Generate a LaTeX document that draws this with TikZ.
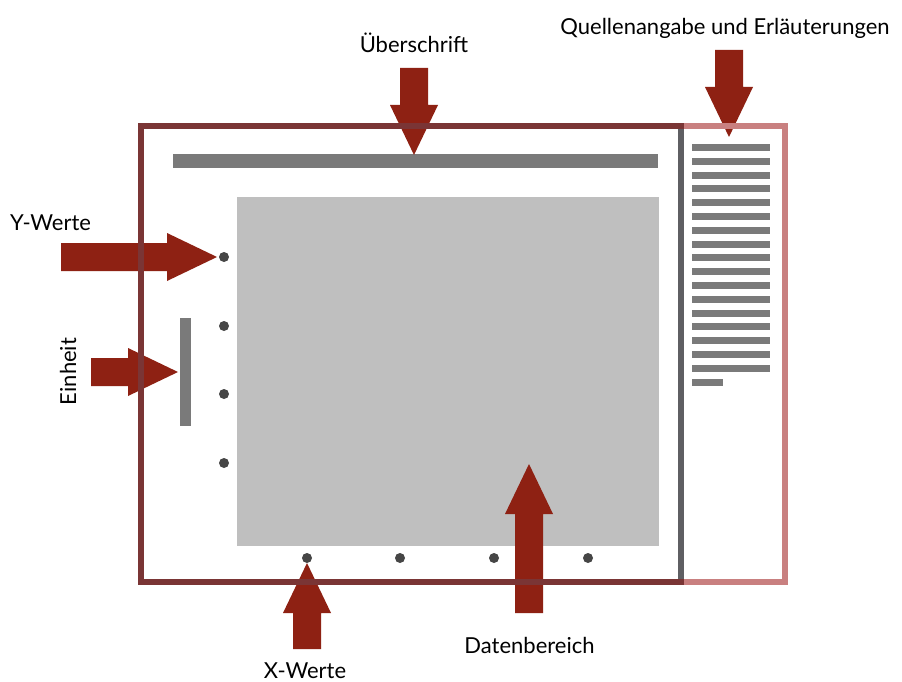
\documentclass[tikz,border=0pt]{standalone}
\usepackage{fontspec}
\setmainfont{Lato}
\definecolor{arrowred}{RGB}{142,33,19}
\definecolor{framedark}{RGB}{122,53,53}
\definecolor{framepink}{RGB}{201,128,128}
\definecolor{sepgray}{RGB}{95,95,99}
\definecolor{bargray}{RGB}{122,122,122}
\definecolor{datagray}{RGB}{191,191,191}
\definecolor{dotgray}{RGB}{70,70,70}
\newcommand\fatarrow[3]{%
  \fill[arrowred, shift={(#1)}, rotate=#2] (0,0) -- (-50,24) -- (-50,14) -- (-#3,14) -- (-#3,-14) -- (-50,-14) -- (-50,-24) -- cycle;}
\begin{document}
\begin{tikzpicture}[x=1pt,y=-1pt,
  lbl/.style={font=\fontsize{22}{26}\selectfont, inner sep=0pt, text=black},
  bar/.style={fill=bargray},
  dot/.style={circle, fill=dotgray, inner sep=0pt, minimum size=10pt}]
\useasboundingbox (0,0) rectangle (902,682);
\fill[white] (0,0) rectangle (902,682);
% data area and bars
\fill[datagray] (237,197) rectangle (659,546);
\fill[bar] (173,154) rectangle (658,168);
\fill[bar] (180,318) rectangle (191,426);
\foreach \k in {0,...,16} \fill[bar] (692,{144+13.8*\k}) rectangle (770,{151+13.8*\k});
\fill[bar] (692,{144+13.8*17}) rectangle (723,{151+13.8*17});
% dots
\foreach \y [count=\i] in {257,326,394,463} \node[dot] (yd\i) at (224,\y) {};
\foreach \x [count=\i] in {307,400,494,588} \node[dot] (xd\i) at (\x,558) {};
% arrow tips
\coordinate (ytip) at (217,257);
\coordinate (etip) at (178,372);
\coordinate (xtip) at (307,563);
\coordinate (dtip) at (529,464);
\coordinate (utip) at (414,155);
\coordinate (qtip) at (729,137);
\fatarrow{ytip}{0}{156}
\fatarrow{etip}{0}{87}
\fatarrow{xtip}{90}{86}
\fatarrow{dtip}{90}{149}
\fatarrow{utip}{-90}{87}
\fatarrow{qtip}{-90}{87}
% frame
\fill[framedark] (138,123) rectangle (684,129);
\fill[framedark] (138,123) rectangle (144,585);
\fill[framedark] (138,579) rectangle (684,585);
\fill[sepgray] (678,129) rectangle (684,579);
\fill[framepink] (684,123) rectangle (788,129);
\fill[framepink] (782,123) rectangle (788,585);
\fill[framepink] (684,579) rectangle (788,585);
% labels
\node[lbl, anchor=base] (ueber) at (414,53) {Überschrift};
\node[lbl, anchor=base] (quelle) at (725,35) {Quellenangabe und Erläuterungen};
\node[lbl, anchor=base west] (yw) at (10,230) {Y-Werte};
\node[lbl, anchor=base, rotate=90] (einh) at (76,371.5) {Einheit};
\node[lbl, anchor=base] (xw) at (305,678) {X-Werte};
\node[lbl, anchor=base] (daten) at (529.5,653) {Datenbereich};
\end{tikzpicture}
\end{document}
